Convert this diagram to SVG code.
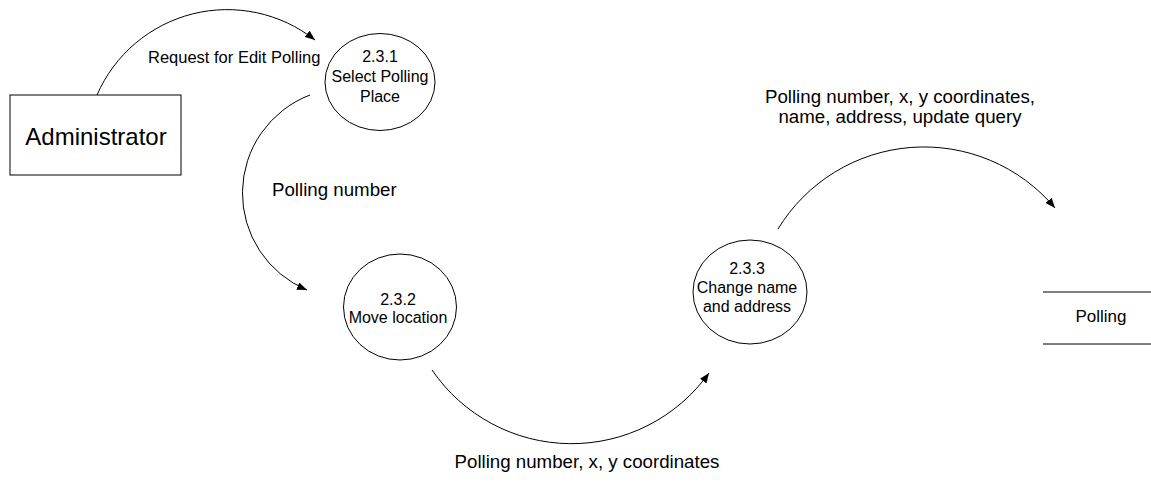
<svg xmlns="http://www.w3.org/2000/svg" width="1151" height="487" viewBox="0 0 1151 487">
  <defs>
    <marker id="arrow" viewBox="0 0 10 8" refX="10" refY="4" markerWidth="10" markerHeight="8" markerUnits="userSpaceOnUse" orient="auto">
      <path d="M0,0 L10,4 L0,8 Z" fill="#000"/>
    </marker>
    <style>
      text { font-family: "Liberation Sans", Arial, sans-serif; fill: #000; }
      .proc { fill: #fff; stroke: #000; stroke-width: 1; }
      .ent { fill: #fff; stroke: #000; stroke-width: 1; }
      .flow { fill: none; stroke: #000; stroke-width: 1; marker-end: url(#arrow); }
      .store { stroke: #000; stroke-width: 1; }
      .ptext { font-size: 16px; text-anchor: middle; }
      .label { font-size: 18.7px; }
    </style>
  </defs>
  <rect width="1151" height="487" fill="#fff"/>

  <!-- data flows -->
  <g id="connectors">
    <path class="flow" d="M97,95 A142,142 0 0,1 315,40"/>
    <path class="flow" d="M310,95 A105,105 0 0,0 307,290"/>
    <path class="flow" d="M432,370 A169,169 0 0,0 709,373"/>
    <path class="flow" d="M778,229 A171,171 0 0,1 1055,208"/>
    <text style="font-size:16.5px" x="148" y="63">Request for Edit Polling</text>
    <text class="label" x="272" y="196">Polling number</text>
    <text class="label" x="900" y="103" text-anchor="middle">Polling number, x, y coordinates,</text>
    <text class="label" x="900" y="123" text-anchor="middle">name, address, update query</text>
    <text class="label" x="587" y="468" text-anchor="middle">Polling number, x, y coordinates</text>
  </g>

  <!-- external entity -->
  <g id="administrator">
    <rect class="ent" x="10" y="95" width="171" height="80"/>
    <text x="96" y="145" font-size="24" text-anchor="middle">Administrator</text>
  </g>

  <!-- processes -->
  <g id="p231">
    <ellipse class="proc" cx="380" cy="82" rx="55" ry="48.5"/>
    <text class="ptext" x="380" y="62">2.3.1</text>
    <text class="ptext" x="380" y="82">Select Polling</text>
    <text class="ptext" x="380" y="102">Place</text>
  </g>

  <g id="p232">
    <ellipse class="proc" cx="400" cy="307" rx="56.5" ry="53"/>
    <text class="ptext" x="398" y="305">2.3.2</text>
    <text class="ptext" x="398" y="323">Move location</text>
  </g>

  <g id="p233">
    <ellipse class="proc" cx="750" cy="292" rx="57" ry="52"/>
    <text class="ptext" x="747" y="274">2.3.3</text>
    <text class="ptext" x="747" y="293">Change name</text>
    <text class="ptext" x="747" y="312">and address</text>
  </g>

  <!-- data store -->
  <g id="polling-store">
    <line class="store" x1="1043" y1="292" x2="1151" y2="292"/>
    <line class="store" x1="1043" y1="344" x2="1151" y2="344"/>
    <text x="1101" y="322" font-size="17" text-anchor="middle">Polling</text>
  </g>
</svg>
